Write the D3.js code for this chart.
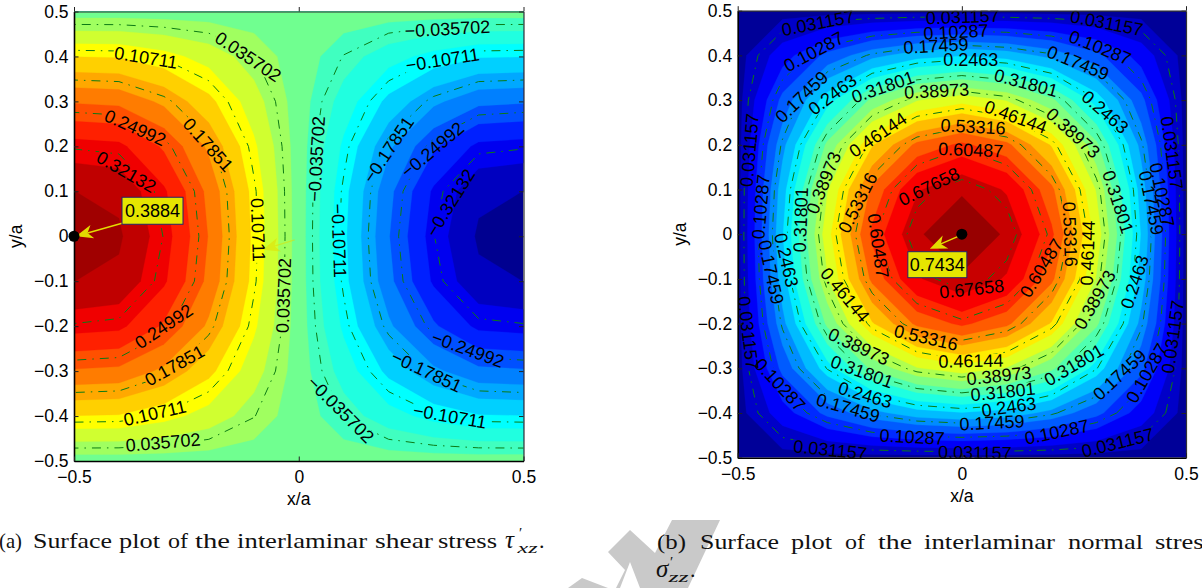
<!DOCTYPE html>
<html><head><meta charset="utf-8">
<script src="https://cdn.jsdelivr.net/npm/d3@7"></script>
<style>html,body{margin:0;padding:0;background:#fff}svg{display:block}text{font-family:"Liberation Sans",Arial,sans-serif}</style>
</head><body><svg id="c" width="1202" height="588"></svg>
<script>
const gridAxis = [-0.5,-0.4,-0.3,-0.2,-0.1,0,0.1,0.2,0.3,0.4,0.5];
// rows run from y/a = 0.5 (top) to y/a = -0.5 (bottom); columns from x/a = -0.5 to 0.5
const tauRows = [
[0,0,0,0,0,0,0,0,0,0,0],
[0.124,0.122,0.102,0.074,0.037,0,-0.037,-0.074,-0.102,-0.122,-0.124],
[0.228,0.223,0.188,0.135,0.069,0,-0.069,-0.135,-0.188,-0.223,-0.228],
[0.318,0.312,0.262,0.189,0.096,0,-0.096,-0.189,-0.262,-0.312,-0.318],
[0.375,0.367,0.309,0.222,0.113,0,-0.113,-0.222,-0.309,-0.367,-0.375],
[0.3884,0.38,0.32,0.23,0.117,0,-0.117,-0.23,-0.32,-0.38,-0.3884],
[0.375,0.367,0.309,0.222,0.113,0,-0.113,-0.222,-0.309,-0.367,-0.375],
[0.318,0.312,0.262,0.189,0.096,0,-0.096,-0.189,-0.262,-0.312,-0.318],
[0.228,0.223,0.188,0.135,0.069,0,-0.069,-0.135,-0.188,-0.223,-0.228],
[0.124,0.122,0.102,0.074,0.037,0,-0.037,-0.074,-0.102,-0.122,-0.124],
[0,0,0,0,0,0,0,0,0,0,0]];
const sigmaRows = [
[0,0,0,0,0,0,0,0,0,0,0],
[0,0.0687,0.131,0.181,0.213,0.226,0.213,0.181,0.131,0.0687,0],
[0,0.131,0.249,0.344,0.405,0.43,0.405,0.344,0.249,0.131,0],
[0,0.181,0.344,0.476,0.56,0.595,0.56,0.476,0.344,0.181,0],
[0,0.213,0.405,0.56,0.66,0.70,0.66,0.56,0.405,0.213,0],
[0,0.226,0.43,0.595,0.70,0.7434,0.70,0.595,0.43,0.226,0],
[0,0.213,0.405,0.56,0.66,0.70,0.66,0.56,0.405,0.213,0],
[0,0.181,0.344,0.476,0.56,0.595,0.56,0.476,0.344,0.181,0],
[0,0.131,0.249,0.344,0.405,0.43,0.405,0.344,0.249,0.131,0],
[0,0.0687,0.131,0.181,0.213,0.226,0.213,0.181,0.131,0.0687,0],
[0,0,0,0,0,0,0,0,0,0,0]];
const tauLevels = [-0.32132,-0.24992,-0.17851,-0.10711,-0.035702,0.035702,0.10711,0.17851,0.24992,0.32132];
const sigmaLevels = [0.031157,0.10287,0.17459,0.2463,0.31801,0.38973,0.46144,0.53316,0.60487,0.67658];
const tauBandEdges = [-0.3748,-0.3391,-0.3034,-0.2677,-0.232,-0.1963,-0.1606,-0.1249,-0.0892,-0.0535,-0.0178,0.0178,0.0535,0.0892,0.1249,0.1606,0.1963,0.232,0.2677,0.3034,0.3391,0.3748];
const sigmaBandEdges = [0.0133,0.0492,0.085,0.1209,0.1568,0.1926,0.2285,0.2644,0.3002,0.3361,0.372,0.4079,0.4437,0.4796,0.5155,0.5513,0.5872,0.6231,0.665,0.7065];
const tauColors = ["#000090","#0000C0","#0000F0","#0020FF","#0050FF","#0080FF","#00A8FF","#00D0FF","#00FFFF","#20FFE0","#40FFC0","#70FF90","#A0FF60","#D0FF30","#FFFF00","#FFD000","#FFA800","#FF7C00","#FF5000","#FF2000","#F00000","#C00000","#A00000"];
const xTicks = [-0.5,0,0.5];
const yTicks = [-0.5,-0.4,-0.3,-0.2,-0.1,0,0.1,0.2,0.3,0.4,0.5];
const tauPeak = {x:-0.5,y:0,label:"0.3884"};
const sigmaPeak = {x:0,y:0,label:"0.7434"};
// contour-label texts and, separately, where they sit (x/a, y/a, angle)
const tauLabelTexts = ["0.035702","0.10711","0.24992","0.17851","0.32132","0.10711","0.035702","0.24992","0.17851","0.10711","0.035702","−0.035702","−0.10711","−0.17851","−0.24992","−0.32132","−0.035702","−0.10711","−0.035702","−0.17851","−0.24992","−0.10711"];
const tauLabelPlaces = [[-0.113,0.399,34],[-0.34,0.397,9],[-0.364,0.241,24],[-0.202,0.203,48],[-0.384,0.143,30],[-0.091,0.014,88],[-0.033,-0.132,-88],[-0.3,-0.201,-34],[-0.276,-0.288,-29],[-0.32,-0.394,-13],[-0.302,-0.459,-5],[0.331,0.461,-3],[0.32,0.392,-9],[0.2,0.192,-56],[0.298,0.192,-40],[0.338,0.074,-58],[0.04,0.172,-87],[0.089,-0.01,88],[0.093,-0.386,45],[0.284,-0.301,25],[0.376,-0.252,20],[0.336,-0.401,10]];
const sigmaLabelTexts = ["0.031157","0.10287","0.17459","0.2463","0.31801","0.38973","0.46144","0.031157","0.10287","0.17459","0.2463","0.53316","0.60487","0.67658","0.53316","0.38973","0.31801","0.10287","0.031157","0.2463","0.17459","0.60487","0.53316","0.46144","0.60487","0.31801","0.38973","0.46144","0.31801","0.2463","0.17459","0.10287","0.031157","0.031157","0.10287","0.17459","0.2463","0.38973","0.031157","0.10287","0.17459","0.31801","0.031157","0.10287","0.17459","0.2463","0.31801","0.38973","0.46144","0.67658","0.031157","0.031157","0.10287","0.17459","0.2463","0.31801","0.38973","0.53316","0.46144","0.10287","0.031157"];
const sigmaLabelPlaces = [[-0.321,0.472,-11],[-0.33,0.408,-28],[-0.357,0.307,-44],[-0.288,0.312,-37],[-0.176,0.329,-19],[-0.056,0.32,-3],[-0.187,0.222,-34],[0.002,0.486,-2],[-0.013,0.452,-3],[-0.058,0.421,-3],[0.02,0.39,0],[0.025,0.24,3],[0.02,0.188,2],[-0.073,0.106,-26],[-0.232,0.07,-63],[-0.308,0.115,-68],[-0.359,0.032,-88],[-0.448,0.061,-85],[-0.473,0.188,-85],[-0.392,-0.058,77],[-0.426,-0.085,78],[-0.187,-0.026,82],[0.241,0,88],[0.281,-0.042,-88],[0.178,-0.076,-58],[0.348,0.072,72],[0.248,0.226,42],[0.12,0.262,20],[0.143,0.338,15],[0.319,0.273,41],[0.259,0.383,22],[0.308,0.417,22],[0.323,0.472,11],[0.468,0.182,82],[0.446,0.088,78],[0.422,0.07,78],[0.386,-0.107,-72],[0.297,-0.147,-60],[0.471,-0.23,-82],[0.413,-0.311,-60],[0.352,-0.315,-43],[0.25,-0.293,-30],[0.348,-0.467,-14],[0.212,-0.443,-12],[0.067,-0.422,-3],[0.105,-0.387,-8],[0.092,-0.353,-6],[0.083,-0.317,-6],[0.02,-0.284,-1],[0.022,-0.123,-6],[0.029,-0.489,1],[-0.294,-0.483,6],[-0.111,-0.454,3],[-0.254,-0.389,16],[-0.216,-0.36,16],[-0.223,-0.308,20],[-0.23,-0.252,25],[-0.08,-0.232,13],[-0.261,-0.136,50],[-0.406,-0.337,47],[-0.477,-0.221,83]];

function jet(t){
  const c=v=>Math.round(255*Math.max(0,Math.min(1,v)));
  const r=Math.min(4*t-1.5,-4*t+4.5), g=Math.min(4*t-0.5,-4*t+3.5), b=Math.min(4*t+0.5,-4*t+2.5);
  return d3.rgb(c(r),c(g),c(b)).formatHex();
}
const sigmaColors = d3.range(21).map(k=>jet((k+0.5)/21));
const svg = d3.select("#c");

// watermark behind the captions
const wm = svg.append("g").attr("fill","#c9c9c9");
wm.append("polygon").attr("points","608,552 630,530 655,553 672,520 720,520 688,588 640,588 630,562 620,588 616,588 625,570");
wm.append("polygon").attr("points","568,588 582,578 608,588");

let uid=0;
function panel(o){
  const id=++uid;
  const x=d3.scaleLinear().domain([-0.5,0.5]).range([o.l,o.r]);
  const y=d3.scaleLinear().domain([-0.5,0.5]).range([o.b,o.t]);
  const g=svg.append("g");
  const defs=g.append("defs");
  defs.append("clipPath").attr("id","clip"+id).append("rect").attr("x",o.l).attr("y",o.t).attr("width",o.r-o.l).attr("height",o.b-o.t);
  const values=o.rows.flat();
  const n=gridAxis.length;
  const toX=d3.scaleLinear().domain([0.5,n-0.5]).range([gridAxis[0],gridAxis[n-1]]);
  const toY=d3.scaleLinear().domain([0.5,n-0.5]).range([gridAxis[n-1],gridAxis[0]]);
  const path=d3.geoPath(d3.geoTransform({point(a,b){this.stream.point(x(toX(a)),y(toY(b)));}}));
  const plot=g.append("g").attr("clip-path",`url(#clip${id})`);
  plot.append("rect").attr("x",o.l).attr("y",o.t).attr("width",o.r-o.l).attr("height",o.b-o.t).attr("fill",o.colors[0]);
  const contours=d3.contours().size([n,n]).smooth(true);
  plot.selectAll("path.band").data(o.edges.map((e,i)=>({e,c:o.colors[i+1]}))).join("path")
    .attr("class","band").attr("fill",d=>d.c).attr("stroke",d=>d.c).attr("stroke-width",0.3)
    .attr("d",d=>path(contours.contour(values,d.e)));
  // labels go on top, lines are masked where the labels sit
  const mask=defs.append("mask").attr("id","mask"+id).attr("maskUnits","userSpaceOnUse").attr("x",0).attr("y",0).attr("width",1202).attr("height",588);
  mask.append("rect").attr("width",1202).attr("height",588).attr("fill","#fff");
  const lines=plot.append("g").attr("mask",`url(#mask${id})`);
  lines.selectAll("path").data(o.levels).join("path").attr("fill","none").attr("stroke","#0b7a14").attr("stroke-width",1)
    .attr("stroke-dasharray","9 6 1.5 6").attr("d",d=>path(contours.contour(values,d)));
  const labels=plot.append("g").selectAll("text").data(o.labelTexts).join("text")
    .attr("font-size",18).attr("fill","#000").attr("text-anchor","middle").attr("dominant-baseline","central")
    .attr("transform",(d,i)=>{const p=o.labelPlaces[i];return `translate(${x(p[0])},${y(p[1])}) rotate(${p[2]})`;})
    .text(d=>d);
  labels.each(function(d,i){
    const w=this.getComputedTextLength(),p=o.labelPlaces[i];
    mask.append("rect").attr("x",-w/2-1).attr("y",-7).attr("width",w+2).attr("height",14).attr("fill","#000")
      .attr("transform",`translate(${x(p[0])},${y(p[1])}) rotate(${p[2]})`);
  });
  // axes: ticks inside, on all four sides
  const fmt=d=>d===0?"0":d3.format(".1f")(d);
  const ax=(gen,tx,ty,lab)=>{
    const a=g.append("g").attr("transform",`translate(${tx},${ty})`).call(gen.tickSizeInner(-4.5).tickSizeOuter(0).tickPadding(lab.pad).tickFormat(lab.show?fmt:""));
    a.selectAll("text").attr("font-size",17.5).attr("fill","#000");
    a.selectAll("line").attr("stroke","#222");
    a.select(".domain").attr("stroke",lab.show?"#000":"#333").attr("stroke-width",lab.show?1.6:1.2);
  };
  ax(d3.axisRight(y).tickValues(yTicks),o.r,0,{pad:0,show:false});
  ax(d3.axisBottom(x).tickValues(xTicks),0,o.t,{pad:0,show:false});
  ax(d3.axisLeft(y).tickValues(yTicks),o.l,0,{pad:5.5,show:true});
  ax(d3.axisBottom(x).tickValues(xTicks),0,o.b,{pad:10,show:true});
  g.append("text").attr("x",(o.l+o.r)/2).attr("y",o.b+44).attr("font-size",17.5).attr("text-anchor","middle").text("x/a");
  g.append("text").attr("transform",`translate(${o.l-52},${(o.t+o.b)/2}) rotate(-90)`).attr("font-size",17.5).attr("text-anchor","middle").text("y/a");
  return {g,x,y};
}
function arrow(g,x1,y1,x2,y2,op){
  const L=Math.hypot(x2-x1,y2-y1),ux=(x2-x1)/L,uy=(y2-y1)/L,nx=-uy,ny=ux;
  const h=17,w=7,notch=12;
  g.append("line").attr("x1",x1).attr("y1",y1).attr("x2",x2-ux*notch).attr("y2",y2-uy*notch).attr("stroke","#e3dc00").attr("stroke-width",1.4).attr("opacity",op);
  g.append("polygon").attr("fill","#e3dc00").attr("opacity",op).attr("points",[[x2,y2],[x2-ux*h+nx*w,y2-uy*h+ny*w],[x2-ux*notch,y2-uy*notch],[x2-ux*h-nx*w,y2-uy*h-ny*w]].join(" "));
}
function callout(p,peak,bx,by,bw,bh,sx,sy,tipx,tipy){
  const g=p.g,px=p.x(peak.x),py=p.y(peak.y);
  arrow(g,px+sx,py+sy,px+tipx,py+tipy,1);
  g.append("circle").attr("cx",px).attr("cy",py).attr("r",5.5).attr("fill","#000");
  g.append("rect").attr("x",px+bx).attr("y",py+by).attr("width",bw).attr("height",bh).attr("fill","#e6e600").attr("stroke","#23236b").attr("stroke-width",1);
  g.append("text").attr("x",px+bx+bw/2).attr("y",py+by+bh/2).attr("text-anchor","middle").attr("dominant-baseline","central").attr("font-size",18).text(peak.label);
}

const A=panel({l:74,r:523.5,t:11.5,b:461,rows:tauRows,edges:tauBandEdges,colors:tauColors,levels:tauLevels,labelTexts:tauLabelTexts,labelPlaces:tauLabelPlaces});
const B=panel({l:737.7,r:1186,t:10.7,b:457.7,rows:sigmaRows,edges:sigmaBandEdges,colors:sigmaColors,levels:sigmaLevels,labelTexts:sigmaLabelTexts,labelPlaces:sigmaLabelPlaces});

// faint stray arrow left in the first panel
arrow(A.g,A.x(-0.009),A.y(-0.008),A.x(-0.08),A.y(-0.03),0.5);
callout(A,tauPeak,48,-39,61,27,48,-13,2,0);
callout(B,sigmaPeak,-54,17.5,59,26,-3,2,-32,14.5);

// captions
const capA=[["(a)",-1,23],["Surface",33,79],["plot",119,41],["of",168,20],["the",195,35],["interlaminar",237,130],["shear",375,58],["stress",438,59]];
const capB=[["(b)",657,29],["Surface",700,79],["plot",791,41],["of",845,20],["the",878,34],["interlaminar",924,131],["normal",1068,75],["stress",1155,59]];
const cap=svg.append("g").attr("font-size",22).attr("fill","#111");
[...capA.map(d=>[...d,548]),...capB.map(d=>[...d,549])].forEach(d=>{
  cap.append("text").attr("x",d[1]).attr("y",d[3]).attr("textLength",d[2]).attr("lengthAdjust","spacingAndGlyphs").style("font-family","'Liberation Serif',serif").text(d[0]);
});
function math(x,yb,sym,sub,subw,end){
  const f="'Liberation Serif',serif";
  cap.append("text").attr("x",x).attr("y",yb).style("font-family",f).attr("font-style","italic").attr("font-size",25).text(sym);
  cap.append("text").attr("x",x+14).attr("y",yb-10).style("font-family",f).attr("font-size",15).text("′");
  cap.append("text").attr("x",x+12.5).attr("y",yb+5).style("font-family",f).attr("font-style","italic").attr("font-size",14).attr("textLength",subw).attr("lengthAdjust","spacingAndGlyphs").text(sub);
  cap.append("text").attr("x",end).attr("y",yb).style("font-family",f).text(".");
}
math(505,548,"τ","xz",20,539);
math(656,577,"σ","zz",20,690);
</script></body></html>
